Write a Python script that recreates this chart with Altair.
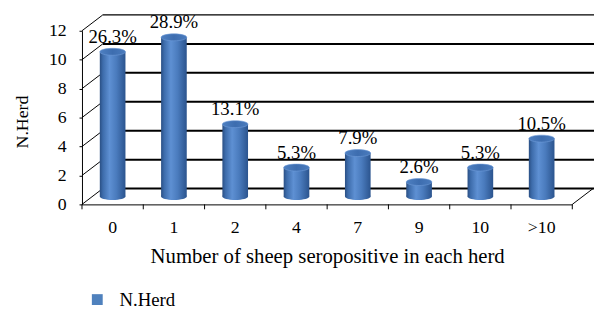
import altair as alt
import pandas as pd

# ---- data ----
categories = ["0", "1", "2", "4", "7", "9", "10", ">10"]
herds = [10, 11, 5, 2, 3, 1, 2, 4]
pct_labels = ["26.3%", "28.9%", "13.1%", "5.3%", "7.9%", "2.6%", "5.3%", "10.5%"]
y_ticks = [0, 2, 4, 6, 8, 10, 12]
series_name = "N.Herd"
x_title = "Number of sheep seropositive in each herd"

# ---- layout / style ----
W, H = 497, 176
DX, DY = 21, 16          # 3-D depth of the back wall (px)
MID = 8                  # cylinders sit at mid depth
BAR_W = 26
FONT = "Liberation Serif"

bars_df = pd.DataFrame({"cat": categories, "n": herds, "pct": pct_labels})
ticks_df = pd.DataFrame({"v": y_ticks})
zero_df = pd.DataFrame({"v": [0]})

x_axis = alt.Axis(
    title=x_title, titleFontSize=21, labelFontSize=18, labelAngle=0,
    ticks=False, tickSize=0, labelPadding=28, labelBaseline="alphabetic",
    domainColor="black", grid=False, titleY=59, titleBaseline="alphabetic",
)
x_scale = alt.Scale(paddingInner=0, paddingOuter=0)


def xenc(**kw):
    return alt.X("cat:N", sort=categories, scale=x_scale, axis=x_axis, **kw)


front_y = alt.Scale(domain=[0, 12], nice=False)
back_y = alt.Scale(domain=[0, 12], nice=False, range=[H - DY, -DY])
mid_y = alt.Scale(domain=[0, 12], nice=False, range=[H - MID, -MID])

ELLIPSE = "M -1 0 A 1 0.27 0 1 0 1 0 A 1 0.27 0 1 0 -1 0 Z"

grad_body = alt.Gradient(
    gradient="linear", x1=0, x2=1, y1=0, y2=0,
    stops=[
        alt.GradientStop(offset=0, color="#2a4f84"),
        alt.GradientStop(offset=0.12, color="#3d6cab"),
        alt.GradientStop(offset=0.38, color="#5e90d3"),
        alt.GradientStop(offset=0.65, color="#4a7bbd"),
        alt.GradientStop(offset=1, color="#2b548e"),
    ],
)
grad_top = alt.Gradient(
    gradient="linear", x1=0, x2=1, y1=0, y2=0,
    stops=[
        alt.GradientStop(offset=0, color="#4e80c2"),
        alt.GradientStop(offset=0.5, color="#3d6daf"),
        alt.GradientStop(offset=1, color="#4a7bbd"),
    ],
)

# back wall gridlines
back = alt.Chart(ticks_df).mark_rule(color="black").encode(
    y=alt.Y("v:Q", scale=back_y, axis=None),
    x=alt.value(DX),
    x2=alt.value(W + DX + 4),
    strokeWidth=alt.condition("datum.v == 12", alt.value(1.3), alt.value(2)),
)

# left side-wall diagonals + y axis
side = alt.Chart(ticks_df).mark_rule(color="black", strokeWidth=1, y2Offset=-DY).encode(
    y=alt.Y("v:Q", scale=front_y, axis=alt.Axis(
        values=y_ticks, title=series_name, titleFontSize=18, labelFontSize=18,
        tickSize=3, labelPadding=13, domainColor="black", grid=False,
        titleX=-60, titleY=92, titleAngle=270, titleAlign="center",
        titleBaseline="middle",
    )),
    y2="v:Q",
    x=alt.value(0),
    x2=alt.value(DX),
)

# right floor edge
floor_edge = alt.Chart(zero_df).mark_rule(color="black", strokeWidth=1, y2Offset=-DY).encode(
    y=alt.Y("v:Q", scale=front_y, axis=None),
    y2="v:Q",
    x=alt.value(W),
    x2=alt.value(W + DX),
)

# x axis tick marks at band boundaries
xticks = alt.Chart(bars_df).mark_rule(color="black", strokeWidth=1).encode(
    x=xenc(bandPosition=0),
    y=alt.value(H),
    y2=alt.value(H + 5),
)
last_tick = alt.Chart(zero_df).mark_rule(color="black", strokeWidth=1).encode(
    x=alt.value(W),
    y=alt.value(H),
    y2=alt.value(H + 5),
)

bar_bottom = alt.Chart(bars_df).mark_point(
    shape=ELLIPSE, size=BAR_W ** 2, filled=True, opacity=1, color=grad_body, strokeWidth=0
).encode(
    x=xenc(),
    y=alt.YDatum(0, type="quantitative", scale=mid_y, axis=None),
)

bars = alt.Chart(bars_df).mark_bar(size=BAR_W, color=grad_body).encode(
    x=xenc(),
    y=alt.Y("n:Q", scale=mid_y, axis=None),
)

bar_top = alt.Chart(bars_df).mark_point(
    shape=ELLIPSE, size=BAR_W ** 2, filled=True, opacity=1, color=grad_top,
    stroke="#6f9bd8", strokeWidth=0.6,
).encode(
    x=xenc(),
    y=alt.Y("n:Q", scale=mid_y, axis=None),
)

labels = alt.Chart(bars_df).mark_text(
    font=FONT, fontSize=19, baseline="alphabetic", dy=-9, color="black"
).encode(
    x=xenc(),
    y=alt.Y("n:Q", scale=mid_y, axis=None),
    text="pct:N",
)

legend_layer = alt.Chart(pd.DataFrame({"series": [series_name]})).mark_square(opacity=0).encode(
    color=alt.Color(
        "series:N",
        scale=alt.Scale(domain=[series_name], range=["#4f81bd"]),
        legend=alt.Legend(
            orient="none", legendX=6, legendY=263, title=None,
            symbolType="square", symbolSize=121, symbolOpacity=1,
            symbolStrokeWidth=0, labelFont=FONT, labelFontSize=19,
            labelOffset=13, padding=0, labelColor="black",
        ),
    )
)

chart = (
    alt.layer(back, floor_edge, side, xticks, last_tick, bar_bottom, bars, bar_top, labels, legend_layer)
    .resolve_scale(y="independent")
    .properties(
        width=W, height=H,
        padding={"left": 75, "top": 21, "right": 22, "bottom": 106},
        autosize=alt.AutoSizeParams(type="none"),
    )
    .configure_view(stroke=None)
    .configure_axis(
        labelFont=FONT, titleFont=FONT, labelColor="black", titleColor="black",
        tickColor="black", titleFontWeight="normal",
    )
)

chart.save("out.html", embed_options={"renderer": "svg", "actions": False})
